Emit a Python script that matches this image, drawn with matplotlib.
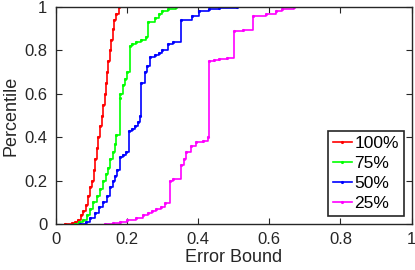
import matplotlib
matplotlib.use("Agg")
import matplotlib.pyplot as plt
from matplotlib.ticker import FuncFormatter

plt.rcParams['font.family'] = ['Liberation Sans', 'DejaVu Sans']

# step CDFs (x = error bound, y = percentile)
x_100 = [0.027, 0.045, 0.055, 0.062, 0.070, 0.078, 0.085, 0.091, 0.097, 0.103,
         0.108, 0.112, 0.116, 0.120, 0.125, 0.130, 0.134, 0.138, 0.141, 0.144,
         0.148, 0.152, 0.156, 0.160, 0.165, 0.170, 0.178]
y_100 = [0.00, 0.005, 0.01, 0.02, 0.04, 0.06, 0.09, 0.13, 0.17, 0.20,
         0.25, 0.30, 0.35, 0.40, 0.45, 0.50, 0.55, 0.60, 0.65, 0.70,
         0.75, 0.80, 0.85, 0.90, 0.94, 0.97, 1.00]

x_75 = [0.055, 0.065, 0.077, 0.088, 0.097, 0.106, 0.115, 0.124, 0.134, 0.141,
        0.147, 0.154, 0.160, 0.166, 0.170, 0.180, 0.182, 0.188, 0.194, 0.200,
        0.208, 0.215, 0.225, 0.240, 0.255, 0.260, 0.278, 0.290, 0.300, 0.315,
        0.339]
y_75 = [0.00, 0.01, 0.02, 0.04, 0.07, 0.10, 0.13, 0.16, 0.20, 0.23,
        0.26, 0.30, 0.33, 0.37, 0.41, 0.58, 0.60, 0.64, 0.67, 0.70,
        0.82, 0.83, 0.84, 0.85, 0.86, 0.93, 0.95, 0.97, 0.98, 0.99,
        1.00]

x_50 = [0.069, 0.085, 0.097, 0.110, 0.122, 0.133, 0.143, 0.152, 0.160, 0.166,
        0.172, 0.180, 0.190, 0.199, 0.206, 0.214, 0.222, 0.230, 0.236, 0.241,
        0.250, 0.257, 0.264, 0.278, 0.290, 0.300, 0.315, 0.330, 0.353, 0.384,
        0.404, 0.430, 0.460, 0.510]
y_50 = [0.00, 0.01, 0.03, 0.05, 0.08, 0.10, 0.13, 0.17, 0.20, 0.22,
        0.25, 0.31, 0.32, 0.33, 0.43, 0.44, 0.45, 0.47, 0.50, 0.65,
        0.70, 0.73, 0.77, 0.78, 0.79, 0.80, 0.83, 0.84, 0.94, 0.96,
        0.98, 0.99, 0.995, 1.00]

x_25 = [0.138, 0.160, 0.180, 0.200, 0.227, 0.245, 0.259, 0.271, 0.283, 0.295,
        0.306, 0.320, 0.330, 0.353, 0.360, 0.366, 0.381, 0.395, 0.415, 0.427,
        0.432, 0.445, 0.460, 0.480, 0.502, 0.525, 0.553, 0.590, 0.619, 0.637,
        0.670]
y_25 = [0.00, 0.005, 0.01, 0.02, 0.03, 0.04, 0.05, 0.06, 0.07, 0.08,
        0.095, 0.20, 0.21, 0.27, 0.30, 0.33, 0.36, 0.38, 0.385, 0.40,
        0.75, 0.755, 0.76, 0.765, 0.89, 0.895, 0.96, 0.97, 0.98, 0.99,
        1.00]

series = [("100%", x_100, y_100, "#ff0000"),
          ("75%", x_75, y_75, "#00ff00"),
          ("50%", x_50, y_50, "#0000ff"),
          ("25%", x_25, y_25, "#ff00ff")]

fig = plt.figure(figsize=(4.15, 2.7), dpi=100)
ax = fig.add_axes([0.134, 0.170, 0.858, 0.804])

for label, xs, ys, color in series:
    ax.plot(xs, ys, drawstyle="steps-post", color=color, lw=1.2,
            marker=".", markersize=2.5, label=label)

ax.set_xlim(0, 1)
ax.set_ylim(0, 1)
ticks = [0, 0.2, 0.4, 0.6, 0.8, 1]
ax.set_xticks(ticks)
ax.set_yticks(ticks)
fmt = FuncFormatter(lambda v, p: "%g" % v)
ax.xaxis.set_major_formatter(fmt)
ax.yaxis.set_major_formatter(fmt)
ax.tick_params(direction="in", top=True, right=True, length=4,
               labelsize=12, colors="#262626")
ax.tick_params(axis="x", pad=6)
ax.tick_params(axis="y", pad=6)
for s in ax.spines.values():
    s.set_color("#262626")
    s.set_linewidth(1.0)

ax.set_xlabel("Error Bound", fontsize=13, color="#262626", labelpad=1)
ax.set_ylabel("Percentile", fontsize=13, color="#262626", labelpad=3)

leg = ax.legend(loc="lower right", fontsize=12.5, frameon=True, fancybox=False,
                handlelength=1.05, handletextpad=0.15, borderpad=0.3,
                labelspacing=0.28, borderaxespad=0.45, framealpha=1)
leg.get_frame().set_edgecolor("#262626")
leg.get_frame().set_linewidth(1.2)

fig.savefig("out.png", dpi=100)
